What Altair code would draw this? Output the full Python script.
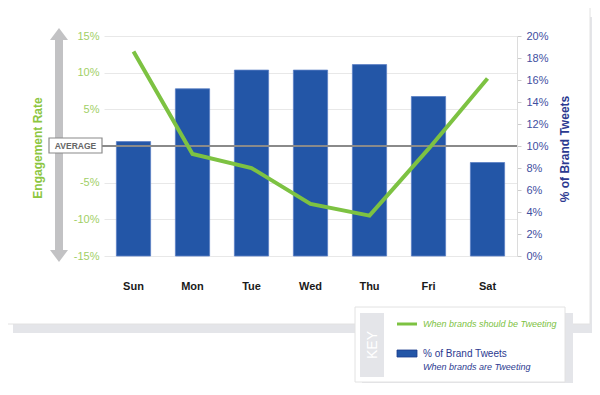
import altair as alt
import pandas as pd

days = ["Sun", "Mon", "Tue", "Wed", "Thu", "Fri", "Sat"]
brand_tweets_pct = [10.4, 15.2, 16.9, 16.9, 17.4, 14.5, 8.5]
engagement_pct = [12.9, -1.1, -3.0, -7.9, -9.5, -0.4, 9.2]
left_ticks = [-15, -10, -5, 5, 10, 15]
right_ticks = [0, 2, 4, 6, 8, 10, 12, 14, 16, 18, 20]

df = pd.DataFrame({"day": days, "tweets": brand_tweets_pct, "eng": engagement_pct})
one = pd.DataFrame({"a": [0]})

FONT = "Liberation Sans"
GREEN = "#7dc242"
GREEN_LABEL = "#9fcf66"
NAVY = "#2b3990"
NAVY_LABEL = "#3f4f9f"
BAR = "#2356a7"
SHADOW = "#e4e5e9"
W, H = 413, 220

xenc = alt.X("day:N", sort=days, title=None,
             scale=alt.Scale(paddingInner=0.42, paddingOuter=0.21),
             axis=alt.Axis(ticks=False, domain=False, labelPadding=24, labelFontSize=11,
                           labelFontWeight="bold", labelColor="#1a1a1a", labelFont=FONT,
                           labelAngle=0))

def rect(x, x2, y, y2, **kw):
    return alt.Chart(one).mark_rect(**kw).encode(
        x=alt.value(x), x2=alt.value(x2), y=alt.value(y), y2=alt.value(y2))

def text(t, x, y, **kw):
    return alt.Chart(one).mark_text(text=t, font=FONT, **kw).encode(
        x=alt.value(x), y=alt.value(y))

# frame and shadows
shadow_r = rect(486, 496, -19, 297, fill=SHADOW)
shadow_b = rect(-91, 486, 288, 297, fill=SHADOW)
card = rect(-101, 486, -32, 288, fill="white", fillOpacity=0, stroke="#e2e2e2", strokeWidth=1)

# legend box
leg_shadow = rect(258, 469, 277, 354, fill=SHADOW)
leg_box = rect(251, 461, 271, 346, fill="white", stroke="#e2e2e2", strokeWidth=1)
key_tab = rect(256, 280, 277, 341, fill=SHADOW)
key_txt = text("KEY", 268.5, 309, angle=270, fontSize=14, color="white", align="center",
               baseline="middle")
leg_line = alt.Chart(one).mark_rule(color=GREEN, strokeWidth=3).encode(
    x=alt.value(293), x2=alt.value(313), y=alt.value(288))
leg_t1 = text("When brands should be Tweeting", 319, 288, fontSize=9, fontStyle="italic",
              color=GREEN, align="left", baseline="middle")
leg_rect = rect(293, 313, 314, 321, fill=BAR, stroke="#1a3a8a", strokeWidth=0.8)
leg_t2 = text("% of Brand Tweets", 319, 318, fontSize=10, color=NAVY, align="left",
              baseline="middle")
leg_t3 = text("When brands are Tweeting", 319, 331, fontSize=9, fontStyle="italic",
              color=NAVY, align="left", baseline="middle")

# gray double arrow
shaft = alt.Chart(one).mark_rule(color="#c2c2c4", strokeWidth=8).encode(
    x=alt.value(-45), y=alt.value(4), y2=alt.value(214))
head_up = alt.Chart(one).mark_point(shape="M-1,0.667L1,0.667L0,-0.667Z", size=324,
                                    filled=True, color="#c2c2c4", opacity=1).encode(
    x=alt.value(-45), y=alt.value(-2))
head_dn = alt.Chart(one).mark_point(shape="M-1,-0.667L1,-0.667L0,0.667Z", size=324,
                                    filled=True, color="#c2c2c4", opacity=1).encode(
    x=alt.value(-45), y=alt.value(220))

# bars (right axis)
bars = alt.Chart(df).mark_bar(color=BAR, stroke="#5b7fc4", strokeWidth=0.8).encode(
    x=xenc,
    y=alt.Y("tweets:Q", title=None, scale=alt.Scale(domain=[0, 20], nice=False),
            axis=alt.Axis(orient="right", values=right_ticks, grid=False,
                          labelExpr="datum.value + '%'", domainColor="#dcdcdc",
                          tickColor="#cccccc", tickSize=4, labelPadding=5,
                          labelColor=NAVY_LABEL, labelFontSize=11, labelFont=FONT)),
)

# average line at 0 engagement
avg_df = pd.DataFrame({"v": [0]})
avg = alt.Chart(avg_df).mark_rule(color="#8a8a8a", strokeWidth=2).encode(
    y=alt.Y("v:Q", scale=alt.Scale(domain=[-15, 15], nice=False), axis=None),
    x=alt.value(-2), x2=alt.value(W))
avg_box = rect(-55, -2, 102, 117, fill="white", stroke="#8a8a8a", strokeWidth=1.2)
avg_txt = text("AVERAGE", -28.5, 110, fontSize=8.5, fontWeight="bold", color="#666666",
               align="center", baseline="middle")

# engagement line (left axis)
line = alt.Chart(df).mark_line(color=GREEN, strokeWidth=4, strokeJoin="miter").encode(
    x=xenc,
    y=alt.Y("eng:Q", title=None, scale=alt.Scale(domain=[-15, 15], nice=False),
            axis=alt.Axis(orient="left", values=left_ticks, grid=True, gridColor="#e8e8e8",
                          labelExpr="datum.value + '%'", domain=False, ticks=False,
                          labelPadding=5, labelColor=GREEN_LABEL, labelFontSize=11,
                          labelFont=FONT)),
)

left_title = text("Engagement Rate", -66, 112, angle=270, fontSize=12, fontWeight="bold",
                  color="#8cc63f", align="center", baseline="middle")
right_title = text("% of Brand Tweets", 461, 113, angle=270, fontSize=12, fontWeight="bold",
                   color=NAVY, align="center", baseline="middle")

chart = alt.layer(
    shadow_r, shadow_b, card, leg_shadow, leg_box, key_tab, key_txt, leg_line, leg_t1,
    leg_rect, leg_t2, leg_t3, shaft, head_up, head_dn, bars, avg, avg_box, avg_txt, line,
    left_title, right_title,
).resolve_scale(y="independent").properties(
    width=W, height=H, autosize="none",
    padding={"left": 96, "top": 28, "right": 75, "bottom": 127},
).configure_view(strokeWidth=0)

chart.save("out.html", embed_options={"renderer": "svg", "actions": False})
